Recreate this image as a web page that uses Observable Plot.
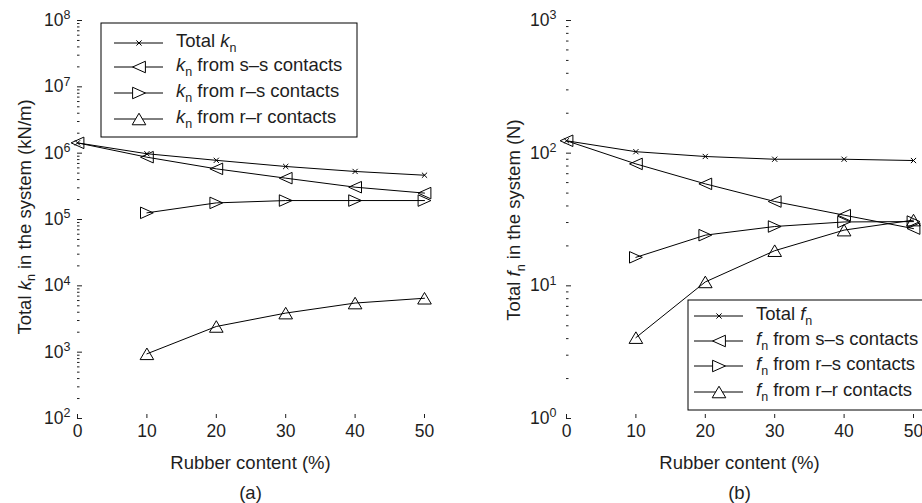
<!DOCTYPE html>
<html><head><meta charset="utf-8">
<script src="https://cdn.jsdelivr.net/npm/d3@7"></script>
<script src="https://cdn.jsdelivr.net/npm/@observablehq/plot@0.6"></script>
<style>
body{margin:0;background:#fff;}
#wrap{display:flex;width:922px;height:503px;overflow:hidden;}
#wrap svg{display:block;overflow:visible;}
</style></head><body><div id="wrap"><div id="a"></div><div id="b"></div></div>
<script>
// ---- data ----
const rubber = [0, 10, 20, 30, 40, 50];
const rubberRubber = [10, 20, 30, 40, 50];
const xTicks = [0, 10, 20, 30, 40, 50];

const kTotal = [1.43e6, 9.8e5, 7.8e5, 6.3e5, 5.3e5, 4.65e5];
const kSS = [1.43e6, 8.7e5, 5.8e5, 4.2e5, 3.07e5, 2.5e5];
const kRS = [1.26e5, 1.78e5, 1.93e5, 1.93e5, 1.93e5];
const kRR = [944, 2440, 3880, 5500, 6500];
const kTicks = [1e2, 1e3, 1e4, 1e5, 1e6, 1e7, 1e8];

const fTotal = [124, 102.6, 94.4, 90, 90, 88];
const fSS = [124, 83, 58.7, 43.2, 34.1, 27];
const fRS = [16.4, 24.1, 28, 30.3, 30.5];
const fRR = [4.07, 10.7, 18.4, 26.3, 31.3];
const fTicks = [1e0, 1e1, 1e2, 1e3];

const seriesNames = ["Total", "from s\u2013s contacts", "from r\u2013s contacts", "from r\u2013r contacts"];

// ---- symbols ----
const symX = {draw(c, size){const r=Math.sqrt(size/Math.PI);c.moveTo(-r,-r);c.lineTo(r,r);c.moveTo(-r,r);c.lineTo(r,-r);}};
const triLeft = {draw(c, size){const r=Math.sqrt(size/Math.PI);c.moveTo(-r,0);c.lineTo(r,-0.9*r);c.lineTo(r,0.9*r);c.closePath();}};
const triRight = {draw(c, size){const r=Math.sqrt(size/Math.PI);c.moveTo(r,0);c.lineTo(-r,-0.9*r);c.lineTo(-r,0.9*r);c.closePath();}};
const triUp = {draw(c, size){const r=Math.sqrt(size/Math.PI);c.moveTo(0,-0.85*r);c.lineTo(r,0.85*r);c.lineTo(-r,0.85*r);c.closePath();}};
const symbols = [symX, triLeft, triRight, triUp];
const radii = [2.6, 6.4, 6.4, 6.8];

const FONT = "'Liberation Sans', Arial, Helvetica, sans-serif";
const INK = "#1e1e1e";
const FS = "18.5px";    // titles & legend
const TFS = "17.5px";   // tick labels
const SUB = "12.5px";

function rows(xs, vs){ return xs.map((x,i)=>({x, v: vs[i]})); }

function makePanel(o){
  const minor = o.ticks.slice(0,-1).flatMap(d => [2,3,4,5,6,7,8,9].map(m => m*d));
  const dataSets = [rows(rubber,o.total), rows(rubber,o.ss), rows(rubberRubber,o.rs), rows(rubberRubber,o.rr)];
  const marks = [
    Plot.axisY({ticks: minor, tickSize: -2.5, tickFormat: () => "", label: null}),
    Plot.axisY({ticks: o.ticks, tickSize: -5, tickPadding: o.yPad + 5, tickFormat: d => String(Math.round(Math.log10(d))), label: null, line: true, fontSize: TFS}),
    Plot.axisX({ticks: xTicks, tickSize: -4, tickPadding: 10.5, label: null, line: true, fontSize: TFS}),
  ];
  dataSets.forEach((ds, i) => {
    marks.push(Plot.line(ds, {x: "x", y: "v", stroke: "#000", strokeWidth: 1}));
    marks.push(Plot.dot(ds, {x: "x", y: "v", symbol: symbols[i], r: radii[i], stroke: "#000", fill: "none", strokeWidth: 1}));
  });
  const svg = Plot.plot({
    width: 461, height: 503,
    marginLeft: o.ml, marginRight: o.mr, marginTop: 20, marginBottom: 85,
    x: {domain: [0, 50]},
    y: {type: "log", domain: [o.ticks[0], o.ticks[o.ticks.length-1]]},
    style: {fontFamily: FONT, fontSize: TFS, color: INK, background: "#fff"},
    marks
  });
  const s = d3.select(svg);
  // superscript powers of ten
  s.selectAll('g[aria-label="y-axis tick label"] text').each(function(){
    const e = this.textContent.trim();
    if (e === "") return;
    const t = d3.select(this); t.text("");
    t.append("tspan").text("10");
    t.append("tspan").attr("dy", "-0.55em").attr("font-size", SUB).text(e);
  });
  const cx = o.ml + (461 - o.ml - o.mr) / 2;
  // y title
  const yt = s.append("text").attr("transform", `translate(${o.yTitleX},${o.yTitleY}) rotate(-90)`)
    .attr("text-anchor", "middle").attr("fill", INK).attr("font-size", FS);
  yt.append("tspan").text("Total ");
  yt.append("tspan").attr("font-style", "italic").text(o.sym);
  yt.append("tspan").attr("dy", 4.5).attr("font-size", SUB).text("n");
  yt.append("tspan").attr("dy", -4.5).text(" in the system " + o.unit);
  // x title and caption
  s.append("text").attr("x", cx).attr("y", 469).attr("text-anchor", "middle").attr("fill", INK).attr("font-size", FS).text("Rubber content (%)");
  s.append("text").attr("x", cx).attr("y", 499).attr("text-anchor", "middle").attr("fill", INK).attr("font-size", FS).text(o.caption);
  // legend
  const L = o.legend;
  const g = s.append("g").attr("text-anchor", "start");
  g.append("rect").attr("x", L.x).attr("y", L.y).attr("width", L.w).attr("height", L.h)
    .attr("fill", "#fff").attr("stroke", "#000").attr("stroke-width", 1);
  seriesNames.forEach((name, i) => {
    const ry = L.rows[i];
    g.append("line").attr("x1", L.x1).attr("x2", L.x1 + 49).attr("y1", ry).attr("y2", ry).attr("stroke", "#000");
    g.append("path").attr("transform", `translate(${L.x1 + 25},${ry})`)
      .attr("d", d3.symbol().type(symbols[i]).size(Math.PI * radii[i] * radii[i])())
      .attr("fill", "#fff").attr("stroke", "#000");
    const t = g.append("text").attr("x", L.x1 + 62).attr("y", ry + 4).attr("fill", INK).attr("font-size", FS).attr("text-anchor", "start");
    if (i === 0) {
      t.append("tspan").text("Total ");
      t.append("tspan").attr("font-style", "italic").text(o.sym);
      t.append("tspan").attr("dy", 4.5).attr("font-size", SUB).text("n");
    } else {
      t.append("tspan").attr("font-style", "italic").text(o.sym);
      t.append("tspan").attr("dy", 4.5).attr("font-size", SUB).text("n");
      t.append("tspan").attr("dy", -4.5).text(" " + name);
    }
  });
  return svg;
}

document.getElementById("a").appendChild(makePanel({
  total: kTotal, ss: kSS, rs: kRS, rr: kRR, ticks: kTicks,
  ml: 77, mr: 37, yPad: 7, yTitleX: 30.5, yTitleY: 217, sym: "k", unit: "(kN/m)", caption: "(a)",
  legend: {x: 101, y: 23, w: 256, h: 114, x1: 114, rows: [43, 67, 93, 119]}
}));
document.getElementById("b").appendChild(makePanel({
  total: fTotal, ss: fSS, rs: fRS, rr: fRR, ticks: fTicks,
  ml: 105, mr: 9, yPad: 10, yTitleX: 59, yTitleY: 220, sym: "f", unit: "(N)", caption: "(b)",
  legend: {x: 227, y: 300, w: 270, h: 110, x1: 233, rows: [316, 341, 366, 392]}
}));
</script></body></html>
